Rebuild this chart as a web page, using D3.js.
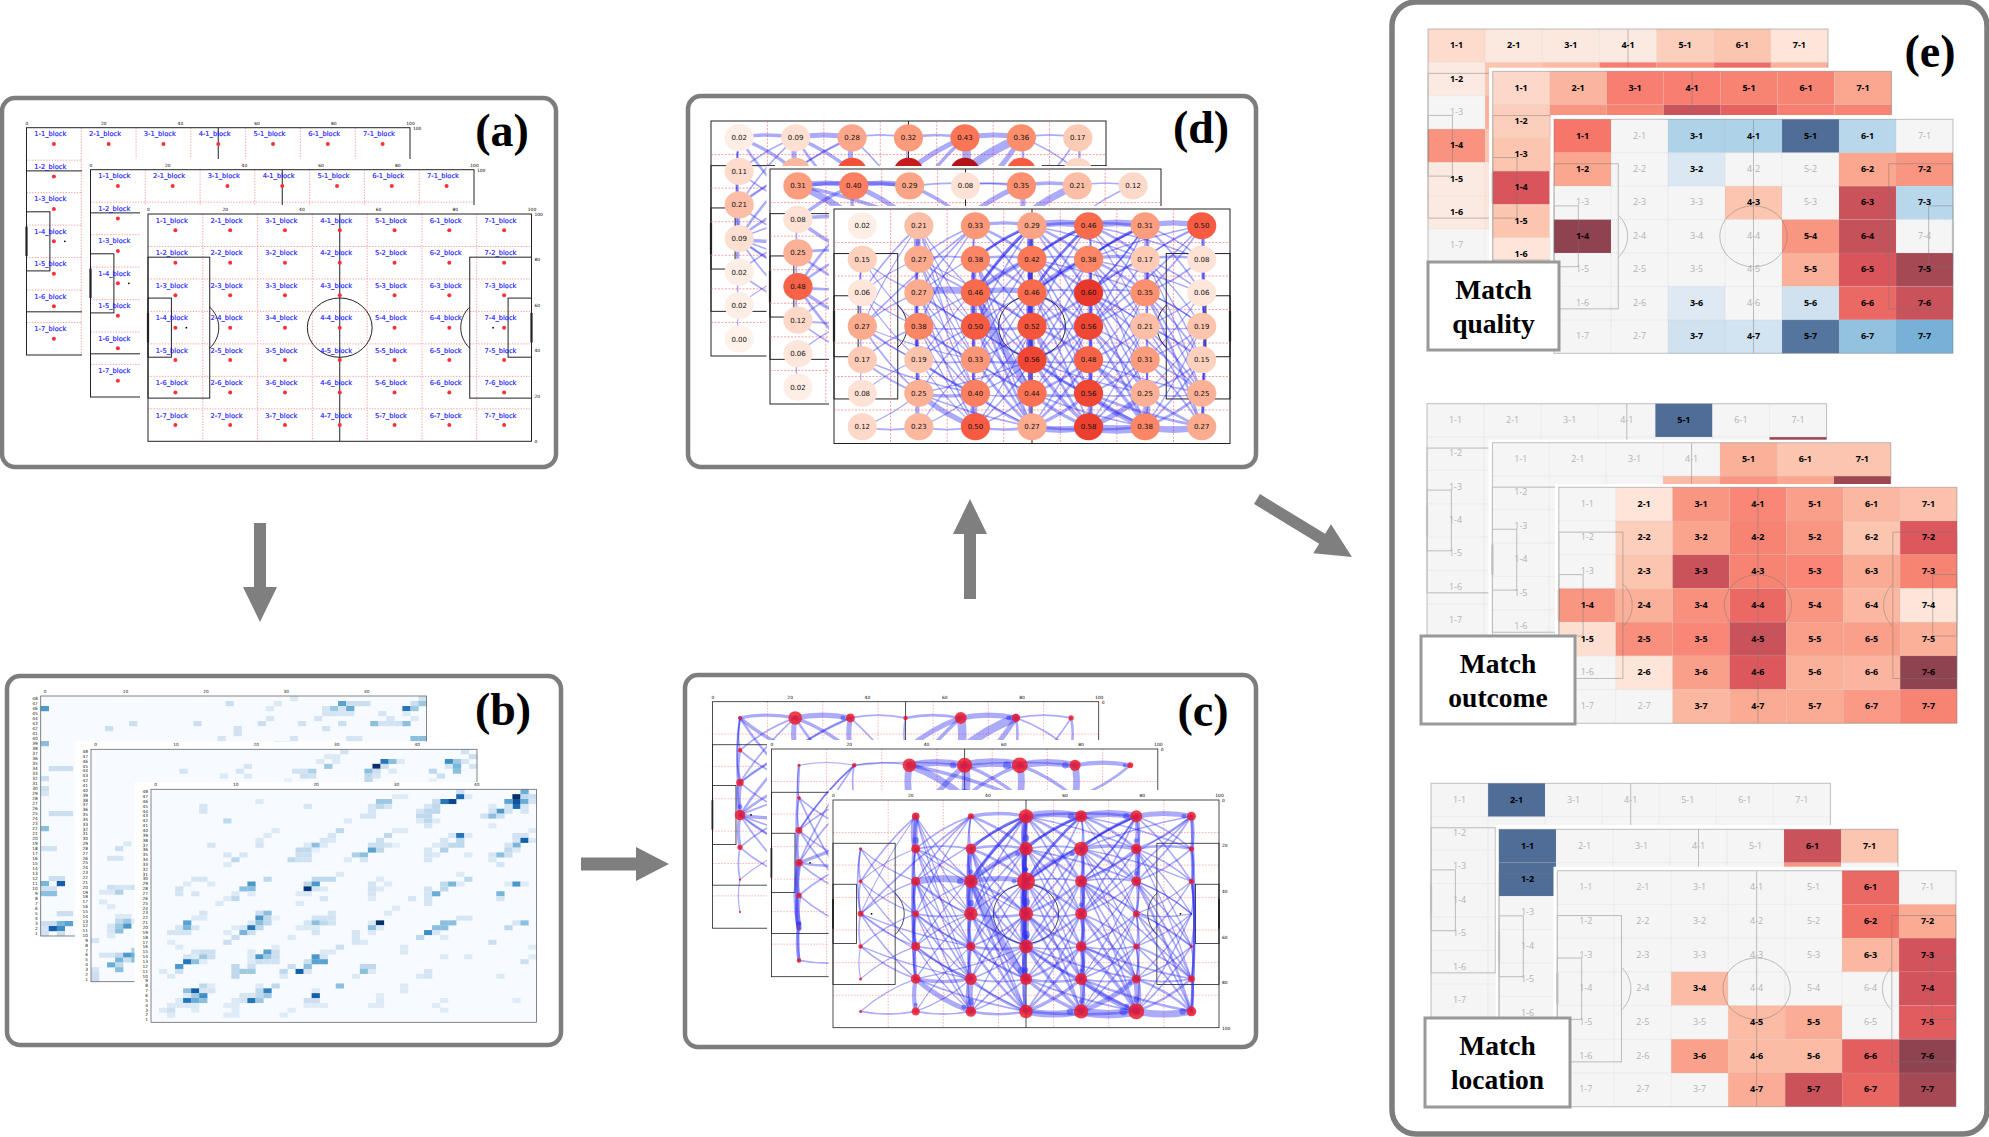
<!DOCTYPE html>
<html><head><meta charset="utf-8">
<script src="https://cdn.jsdelivr.net/npm/d3@7"></script>
<style>html,body{margin:0;background:#fff}svg{display:block}</style>
</head><body><svg id="c" width="1989" height="1137"></svg>
<script>
// ---------- data ----------
const blockCols=[1,2,3,4,5,6,7], blockRows=[1,2,3,4,5,6,7];
const ticksA=[0,20,40,60,80,100];
const heatTicksX=[0,10,20,30,40];
const heatRows=d3.range(48,0,-1), heatCols=d3.range(0,48);

const heatFront=[[46,48,.45],[38,48,.15],[45,47,1],[46,47,.2],[47,47,.15],[38,47,.75],[39,47,.08],[30,47,.07],[31,47,.07],
[45,46,.85],[44,46,.5],[46,46,.45],[37,46,.9],[36,46,.7],[35,46,.15],[28,46,.3],[29,46,.3],[13,46,.08],[47,46,.1],
[45,45,.75],[44,45,.12],[46,45,.1],[35,45,.2],[34,45,.1],[27,45,.1],[28,45,.2],[29,45,.1],[6,45,.1],[19,45,.1],[42,45,.08],
[34,44,.2],[35,44,.2],[33,44,.1],[43,44,.55],[42,44,.12],[44,44,.12],[46,44,.1],[27,44,.1],[6,44,.1],
[33,43,.2],[34,43,.2],[41,43,.12],[42,43,.35],[43,43,.15],[26,43,.1],[27,43,.1],
[9,42,.2],[24,42,.08],[33,42,.08],[34,42,.2],[35,42,.08],[34,41,.1],[42,41,.07],
[15,40,.08],[23,40,.2],[30,40,.08],[31,40,.08],[47,40,.07],
[14,39,.08],[22,39,.1],[29,39,.2],[37,39,.1],[38,39,.7],[39,39,.08],[45,39,.12],[46,39,.12],
[13,38,.08],[21,38,.1],[22,38,.08],[28,38,.15],[36,38,.1],[38,38,.2],[45,38,.1],[46,38,.8],[47,38,.08],
[7,37,.1],[13,37,.1],[19,37,.08],[20,37,.35],[21,37,.08],[27,37,.15],[28,37,.15],[29,37,.12],[30,37,.05],[35,37,.08],[36,37,.1],[37,37,.2],[38,37,.2],[45,37,.4],[44,37,.1],
[18,36,.2],[19,36,.2],[20,36,.05],[27,36,.5],[28,36,.2],[34,36,.1],[36,36,.25],[44,36,.2],[45,36,.08],
[9,35,.1],[11,35,.1],[18,35,.15],[19,35,.15],[25,35,.25],[26,35,.35],[34,35,.1],[35,35,.08],[39,35,.08],[42,35,.1],[43,35,.35],[44,35,.15],
[10,34,.2],[17,34,.2],[18,34,.12],[19,34,.12],[24,34,.08],[26,34,.1],[34,34,.1],[42,34,.08],[9,33,.08],[43,33,.1],
[23,31,.08],[38,31,.08],[5,30,.1],[6,30,.1],[14,30,.2],[20,30,.2],[21,30,.2],[22,30,.2],[28,30,.08],[39,30,.2],
[4,29,.08],[7,29,.08],[12,29,.55],[19,29,.2],[20,29,.55],[27,29,.1],[29,29,.08],[36,29,.2],[37,29,.4],[38,29,.08],[44,29,.08],[45,29,.55],[46,29,.07],
[3,28,.12],[11,28,.35],[12,28,.35],[19,28,.97],[20,28,.1],[21,28,.08],[27,28,.12],[28,28,.08],[34,28,.12],[36,28,.2],
[3,27,.1],[5,27,.1],[10,27,.08],[12,27,.08],[18,27,.08],[19,27,.08],[27,27,.1],[34,27,.1],[35,27,.45],[43,27,.4],
[9,26,.07],[10,26,.2],[21,26,.1],[27,26,.07],[32,26,.1],[34,26,.1],[43,26,.1],[8,25,.08],[18,25,.08],[34,25,.1],[30,24,.08],
[6,23,.1],[13,23,.15],[14,23,.35],[22,23,.1],[29,23,.08],
[5,22,.08],[6,22,.08],[13,22,.55],[14,22,.2],[15,22,.05],[20,22,.12],[21,22,.12],[22,22,.12],[38,22,.1],[39,22,.1],
[4,21,.5],[12,21,.08],[13,21,.35],[14,21,.2],[19,21,.1],[20,21,.35],[21,21,.2],[22,21,.12],[27,21,.08],[28,21,1],[36,21,.35],[37,21,.35],[45,21,.1],[46,21,.35],
[3,20,.1],[4,20,.4],[5,20,.1],[10,20,.07],[11,20,.1],[12,20,.7],[13,20,.2],[18,20,.08],[19,20,.08],[20,20,.08],[27,20,.35],[28,20,.08],[35,20,.35],[36,20,.35],[44,20,.2],
[2,19,.1],[3,19,.1],[4,19,.1],[9,19,.08],[11,19,.4],[12,19,.15],[20,19,.1],[25,19,.1],[27,19,.08],[34,19,.6],[35,19,.1],
[10,18,.15],[17,18,.08],[25,18,.1],[33,18,.2],[36,18,.08],[2,17,.07],[9,17,.15],[25,17,.1],[26,17,.08],[42,17,.15],
[3,16,.08],[15,16,.07],[23,16,.15],[31,16,.08],[47,16,.07],
[5,15,.1],[6,15,.15],[7,15,.15],[12,15,.08],[14,15,.5],[15,15,.15],[21,15,.08],[22,15,.08],[31,15,.08],
[4,14,.1],[5,14,.08],[6,14,.3],[7,14,.15],[12,14,.08],[13,14,.55],[14,14,.3],[15,14,.15],[20,14,.55],[21,14,.1],[36,14,.08],[39,14,.08],[47,14,.07],
[4,13,.7],[5,13,.35],[6,13,.07],[12,13,.08],[13,13,.15],[14,13,.12],[15,13,.12],[19,13,.15],[20,13,.5],[21,13,.5],[46,13,.15],
[3,12,.55],[10,12,.2],[12,12,.15],[17,12,.15],[19,12,.35],[26,12,.2],[27,12,.2],
[1,11,.08],[3,11,.15],[10,11,.2],[11,11,.3],[12,11,.3],[16,11,.2],[18,11,.8],[19,11,.1],[26,11,.35],[27,11,.08],[34,11,.1],
[2,10,.08],[10,10,.2],[16,10,.08],[25,10,.08],[33,10,.08],[34,10,.1],[43,10,.08],
[6,8,.2],[7,8,.07],[13,8,.08],[15,8,.2],[23,8,.35],[31,8,.08],
[4,7,.35],[5,7,.8],[6,7,.1],[7,7,.1],[13,7,.2],[14,7,.65],[20,7,.08],[31,7,.08],
[4,6,.08],[5,6,.3],[6,6,.6],[11,6,.1],[12,6,.1],[13,6,.2],[14,6,.3],[20,6,.8],[28,6,.07],
[3,5,.08],[4,5,.7],[5,5,.45],[6,5,.35],[10,5,.08],[11,5,.1],[12,5,.7],[13,5,.3],[19,5,.15],[20,5,.15],[28,5,.08],[36,5,.07],[45,5,.07],
[2,4,.08],[3,4,.08],[4,4,.08],[5,4,.08],[9,4,.07],[10,4,.08],[19,4,.07],[20,4,.07],[21,4,.07],[27,4,.07],[28,4,.07],[35,4,.07],
[1,3,.08],[2,3,.15],[5,3,.07],[10,3,.07],[17,3,.07],[36,3,.07],[2,2,.08],[9,2,.07],[10,2,.07],[16,2,.07]];

const heatMiddle=[[31,48,.12],[46,48,.12],[29,47,.08],[30,47,.08],[47,47,.15],[28,46,.08],[30,46,.08],[36,46,.7],[37,46,.35],[38,46,.08],[44,46,.6],[45,46,.3],[46,46,.1],
[19,45,.1],[29,45,.3],[35,45,1],[36,45,.15],[44,45,.1],[45,45,.4],[47,45,.1],
[11,44,.1],[18,44,.1],[25,44,.12],[26,44,.12],[27,44,.25],[34,44,.35],[35,44,.15],[37,44,.08],[42,44,.2],[45,44,.35],
[16,43,.08],[19,43,.08],[26,43,.15],[27,43,.12],[34,43,.2],[35,43,.1],[43,43,.15],[24,42,.05],[34,42,.2],[42,42,.05],
[2,26,.1],[3,26,.1],[3,28,.15],[4,29,.08],[2,20,.15],[3,20,.1],[4,20,.1],[5,20,.15],[1,19,.08],[2,19,.08],[3,19,.25],[1,17,.08],[2,16,.08],[3,14,.08],[4,14,.08],
[3,13,.2],[4,13,.3],[5,13,.08],[2,12,.1],[3,12,.3],[4,12,.55],[2,11,.1],[3,11,.35],[2,10,.08],[0,9,.1],[5,7,.25],
[1,6,.1],[2,6,.1],[3,6,.2],[4,6,.55],[5,6,.45],[3,5,.4],[4,5,.15],[5,5,.35],[2,4,.45],[3,4,.2],[0,3,.1],[3,3,.35],[0,2,.15],[0,1,.15]];

const heatBack=[[47,48,.12],[31,48,.08],[23,47,.15],[29,47,.08],[37,47,.5],[38,47,.15],[39,47,.15],[40,47,.15],[46,47,.15],[47,47,.3],
[0,46,.55],[28,46,.08],[35,46,.1],[36,46,.3],[37,46,.1],[38,46,.45],[45,46,.7],[46,46,.3],
[35,45,.1],[36,45,.1],[37,45,.1],[38,45,.1],[42,45,.1],[45,45,.08],[28,44,.1],[34,44,.1],[43,44,.1],[46,44,.08],
[11,43,.15],[19,43,.15],[27,43,.15],[32,43,.12],[37,43,.15],[41,43,.35],[42,43,.12],[43,43,.12],[44,43,.12],[45,43,.35],
[8,42,.15],[24,42,.12],[35,42,.12],[24,41,.12],[22,40,.1],[31,40,.1],[38,40,.1],[39,40,.1],[46,40,.35],[47,40,.35],
[0,39,.35],[29,39,.2],[30,39,.1],[1,34,.15],[2,34,.15],[3,34,.15],[0,32,.15],[0,30,.15],[0,29,.1],[1,25,.15],[2,25,.15],[3,25,.15],[0,22,.35],
[0,18,.12],[1,18,.12],[1,12,.15],[2,12,.15],[0,11,.4],[2,11,.8],[0,10,.12],[1,10,.12],[0,9,.35],[1,9,.35],[2,5,.15],[3,5,.15],
[0,3,.15],[1,3,.15],[2,3,.4],[3,3,.5],[0,2,.1],[1,2,.8],[2,2,.6],[0,1,.12],[2,1,.15]];

// network edges: from, to (column digit + row digit), weight
const edgesFront=[[21,22,4],[22,23,1],[23,24,1.5],[24,25,2],[23,25,1.5],[25,26,1.5],[26,27,2.5],[22,24,1],[24,26,1],
[31,32,1],[32,33,3],[33,34,4],[34,35,2],[35,36,2],[36,37,4],[32,34,2],[33,35,1.5],[34,36,1.5],[35,37,1],[31,33,1],
[41,42,4],[42,43,3],[43,44,5],[44,45,5],[45,46,3],[46,47,2],[41,43,2.5],[43,45,3],[44,46,2],[42,44,2],[45,47,1.5],[41,44,1.5],[42,45,1.5],
[51,52,1],[52,53,2],[53,54,3],[54,55,2],[55,56,2.5],[56,57,3],[52,54,1.5],[53,55,1.5],[54,56,2],[55,57,1.5],[51,53,1],
[61,62,3],[62,63,3],[63,64,1.5],[64,65,1],[65,66,1],[66,67,4],[61,63,1],[62,64,1],[64,66,1],[65,67,1],
[71,72,2],[72,73,1.5],[73,74,1],[75,76,1],[76,77,1.5],[72,77,1.5],[71,77,1.5],[73,76,1],[73,75,1],
[12,13,1],[13,14,1],[14,15,1],[12,14,1],[15,16,.7],
[31,41,2],[41,51,4],[51,61,4],[61,71,3],[41,61,1.5],[42,52,1],[52,62,2],[62,72,1.5],[23,33,4],[33,43,3],[43,53,1],[53,63,1],[34,44,1.5],[44,54,1],[64,74,.8],[36,46,1],[46,56,1.5],[56,66,1],[66,76,1],
[37,47,1.5],[47,57,4],[57,67,5],[67,77,4],[27,37,1],[17,27,1],[26,36,2],[25,35,1],[35,45,1.5],[45,55,1],[55,65,1],[24,34,1],[22,32,1],[32,42,1.5],[47,67,1.5],
[21,13,1],[21,14,.7],[31,14,1],[31,22,1],[31,23,1],[31,24,.8],[41,32,1.5],[41,33,2],[41,34,1],[41,25,.7],[41,23,.8],[41,52,1.5],[41,53,1.5],[41,62,1],[41,54,1],
[51,42,1.5],[51,43,1.5],[51,44,1],[51,33,1],[51,62,1.5],[51,63,1],[51,72,1],[61,52,1.5],[61,53,1],[61,54,1],[61,43,1],[61,72,1],[71,62,1],[71,63,1],[71,52,1],[71,53,.8],[71,54,1],
[12,23,.8],[12,24,.8],[13,22,.7],[13,24,.8],[13,25,.8],[14,23,.8],[14,25,.8],[14,26,1],[14,36,.7],[14,35,.7],[15,24,.8],[15,26,1],[15,36,.8],[16,25,.7],[17,26,.7],
[22,33,1],[22,34,.8],[22,35,.8],[22,36,.8],[22,44,.7],[23,34,1],[23,35,.8],[23,36,1],[23,37,1],[23,45,.7],[24,33,.8],[24,35,1],[24,36,1],[24,37,.8],[24,46,.8],[25,36,1],[25,37,.8],[25,34,.8],[25,47,.8],[26,34,.8],[26,37,3],[26,47,1],[26,45,.8],[27,36,.8],[27,35,.7],[21,33,.8],[21,34,.7],[21,35,.7],[21,36,.7],[21,26,2],
[32,43,1.5],[32,44,1],[32,45,1],[32,46,.8],[32,41,1.5],[32,47,.8],[33,44,1.5],[33,45,1],[33,46,4],[33,47,1.5],[33,42,3],[33,41,1.5],[34,43,1],[34,45,1],[34,46,1],[34,47,1.5],[34,42,1],[35,44,1],[35,46,1],[35,47,1.5],[35,43,1],[35,42,1],[36,45,1],[36,47,1.5],[36,44,1],[36,43,.8],[37,46,1],[37,45,1],[37,44,.8],[31,42,1.5],[31,43,1],
[42,53,1.5],[42,54,1],[42,55,1],[42,51,1.5],[42,56,.8],[42,63,1],[43,52,3],[43,54,1.5],[43,55,1],[43,56,1],[43,51,1.5],[43,61,1],[43,57,1],[44,53,1.5],[44,55,1.5],[44,56,1.5],[44,57,1.5],[44,52,1],[45,54,1.5],[45,56,1.5],[45,57,2],[45,53,1],[45,52,1],[45,66,1],[45,67,1.5],[46,55,1.5],[46,57,2],[46,54,1],[46,53,.8],[46,67,1],[47,56,2],[47,55,1.5],[47,54,1],
[52,63,1.5],[52,64,1],[52,61,1],[52,65,.8],[52,66,.8],[53,62,1.5],[53,64,1],[53,65,1],[53,66,1],[53,67,1],[53,61,1],[54,63,1],[54,65,1],[54,66,1.5],[54,67,1.5],[54,62,1],[55,64,1],[55,66,1.5],[55,67,2],[55,63,.8],[55,76,1],[56,65,1],[56,67,3],[56,64,.8],[56,77,1.5],[56,63,.8],[57,66,3],[57,65,1],[57,64,.8],[51,64,.7],[52,73,.8],[53,75,.8],[53,76,1],
[62,73,1],[62,74,.8],[62,75,.8],[63,72,1],[63,74,.8],[63,75,1],[63,76,1],[63,77,1.5],[64,73,.8],[64,75,.8],[64,76,1],[64,77,1],[65,76,1],[65,77,1],[65,74,.8],[65,73,.8],[66,75,1],[66,77,1.5],[66,74,.8],[67,76,1.5],[67,75,1],[67,74,.8],[61,73,1],[62,76,.8],[74,63,.8]];

const edgesMiddle=[[21,31,.7],[11,21,.7],[31,41,4],[41,51,5],[51,61,4],[61,71,2.5],[21,41,1],[41,61,1],[31,32,4],[41,42,5],[51,52,4],[61,62,4],[71,62,1.5],[31,42,4],[41,33,3],[41,52,2],[51,42,2],[51,62,2],[31,52,2],[21,22,1],[21,13,1],[21,14,1],[11,12,.7],[12,13,1],[13,14,1.5],[14,15,2],[15,16,3],[14,16,3],[16,17,2],[11,17,1.5],[13,22,1],[13,24,1],[13,25,1],[14,25,1],[14,24,1.5],[14,33,2],[15,24,1],[15,26,1],[17,27,1],[12,23,1],[12,25,1],[13,21,1],[14,22,1]];

const edgesBack=[[11,21,2],[21,31,3],[31,41,1],[41,51,1.5],[51,61,3],[61,71,1],[11,12,1],[12,13,1.5],[13,14,3],[14,15,2],[15,16,1],[16,17,.7],[21,22,3],[31,32,3],[41,42,1],[51,52,5],[61,62,1.5],[71,72,1.5],[11,22,2],[11,23,1.5],[21,32,2],[21,33,1.5],[21,13,1],[31,22,1],[51,42,3],[51,43,2],[61,52,5],[61,53,3],[31,43,1],[61,72,1],[71,63,1],[14,25,1],[14,26,1],[14,24,2],[14,23,1.5],[14,22,1.5],[14,33,1],[14,35,1],[14,36,1],[13,22,1],[13,24,1],[13,31,1],[12,21,1],[12,23,1],[15,24,1],[15,26,1],[16,25,.7],[11,13,1],[11,14,1]];

const edgesMiddleD=[[11,21,3],[11,31,2],[21,31,3],[31,51,1],[41,51,1],[51,61,2],[61,71,1],[11,22,4],[11,32,2],[21,32,3],[21,12,2],[31,42,2],[51,42,3],[51,52,3],[61,52,4],[71,62,1],[21,22,2],[12,23,2],[12,22,2],[12,13,1],[13,14,1],[13,23,1.5],[13,24,1.5],[14,15,1],[14,24,1.5],[14,25,2],[14,26,1.5],[14,22,1.5],[14,23,1.5],[15,24,1],[15,25,1],[15,26,1],[16,25,.8],[16,17,.8]];

// panel (c) node sizes by row then column; empty = hidden behind the next sheet
const sizeFront=[[0,10,8,19,16,16,12],[4,12,14,18,19,14,7],[5,12,18,24,16,13,7],[8,9,18,19,16,9,0],[6,12,12,18,14,8,4],[4,13,16,16,16,12,9],[4,11,14,18,19,21,13]];
const sizeMiddle=[[4,6,18,20,21,15,8],[5,,,,,,],[9,,,,,,],[10,,,,,,],[7,,,,,,],[3,,,,,,],[6,,,,,,]];
const sizeBack=[[5,18,12,6,16,11,7],[6,,,,,,],[10,,,,,,],[14,,,,,,],[7,,,,,,],[3,,,,,,],[3,,,,,,]];

// panel (d) centrality values
const valFront=[[.02,.21,.33,.29,.46,.31,.50],[.15,.27,.38,.42,.38,.17,.08],[.06,.27,.46,.46,.60,.35,.06],[.27,.38,.50,.52,.56,.21,.19],[.17,.19,.33,.56,.48,.31,.15],[.08,.25,.40,.44,.56,.25,.25],[.12,.23,.50,.27,.58,.38,.27]];
const valMiddle=[[.31,.40,.29,.08,.35,.21,.12],[.08,.5,.55,.2,.55,.3,.1],[.25,,,,,,],[.48,,,,,,],[.12,,,,,,],[.06,,,,,,],[.02,,,,,,]];
const valBack=[[.02,.09,.28,.32,.43,.36,.17],[.11,.23,.53,.72,.78,.5,.13],[.21,,,,,,],[.09,,,,,,],[.02,,,,,,],[.02,,,,,,],[.00,,,,,,]];

// panel (e) scores: sign = colour side, 0 = not significant
const qualityFront=[[.55,0,-.35,-.35,-1,-.3,0],[.35,0,-.15,0,0,.35,.42],[0,0,0,.2,0,.78,-.3],[1,0,0,0,.42,.8,0],[0,0,0,0,.3,.72,.92],[0,0,-.13,0,-.2,.62,.78],[0,0,-.2,-.19,-.95,-.45,-.55]];
const qualityMiddle=[[.14,.28,.52,.52,.5,.5,.35],[.17,.42,.5,.78,.65,.52,.5],[.2,.3,0,0,0,0,0],[.72,0,0,0,0,0,0],[.2,0,0,0,0,0,0],[.1,0,0,0,0,0,0],[0,0,0,0,0,0,0]];
const qualityBack=[[.13,.08,.08,.07,.17,.2,.1],[.07,.2,.26,.52,.45,.6,.3],[0,.3,0,0,0,0,0],[.43,.2,0,0,0,0,0],[.07,.1,0,0,0,0,0],[.07,.1,0,0,0,0,0],[0,0,0,0,0,0,0]];
const outcomeFront=[[0,.1,.42,.48,.38,.27,.22],[0,.17,.36,.5,.42,.2,.7],[0,.2,.78,.5,.48,.33,.5],[.42,.3,.45,.62,.42,.27,.1],[.12,.45,.48,.78,.38,.38,.3],[0,.1,.38,.7,.3,.28,1],[0,0,.27,.33,.33,.4,.5]];
const outcomeMiddle=[[0,0,0,0,.3,.2,.2],[0,0,0,.25,.42,.35,.95],[0,0,0,0,0,0,0],[0,0,0,0,0,0,0],[0,0,0,0,0,0,0],[0,0,0,0,0,0,0],[0,0,0,0,0,0,0]];
const outcomeBack=[[0,0,0,0,-1,0,0],[0,0,0,0,0,0,.95],[0,0,0,0,0,0,0],[0,0,0,0,0,0,0],[0,0,0,0,0,0,0],[0,0,0,0,0,0,0],[0,0,0,0,0,0,0]];
const locationFront=[[0,0,0,0,0,.62,0],[0,0,0,0,0,.58,.33],[0,0,0,0,0,.27,.75],[0,0,.25,0,0,0,.75],[0,0,0,.25,.32,0,.68],[0,0,.37,.25,.25,.67,1],[0,0,0,.32,.78,.63,.92]];
const locationMiddle=[[-1,0,0,0,0,.78,.2],[-1,0,0,0,0,.42,0],[0,0,0,0,0,0,0],[0,0,0,0,0,0,0],[0,0,0,0,0,0,0],[0,0,0,0,0,0,0],[0,0,0,0,0,0,0]];
const locationBack=[[0,-1,0,0,0,0,0],[0,0,0,0,0,0,0],[0,0,0,0,0,0,0],[0,0,0,0,0,0,0],[0,0,0,0,0,0,0],[0,0,0,0,0,0,0],[0,0,0,0,0,0,0]];

// ---------- helpers ----------
const svg=d3.select('#c');
svg.append('rect').attr('width',1989).attr('height',1137).attr('fill','#fff');
const SERIF='"Liberation Serif","Times New Roman",serif', SANS='"DejaVu Sans",sans-serif';
const GREY='#7d7d7d';
// each sheet is drawn over a white mask; covered(x,y) says whether the next sheet hides a point
function stack(parent,frames,right,bottom,draw){
  frames.forEach((f,i)=>{
    if(f.mx!==undefined) parent.append('rect').attr('x',f.mx).attr('y',f.my).attr('width',right-f.mx).attr('height',bottom-f.my).attr('fill','#fff');
    const later=frames.slice(i+1);
    const covered=(x,y)=>later.some(n=>x>n.mx&&y>n.my&&x<right&&y<bottom);
    draw(parent.append('g'),f,i,covered);
  });
}
function scales(f,rev){
  return {x:d3.scaleLinear([0,100],[f.x,f.x+f.w]), y:d3.scaleLinear([0,100],rev?[f.y,f.y+f.h]:[f.y+f.h,f.y]),
    bx:d3.scaleBand(blockCols,[f.x,f.x+f.w]), by:d3.scaleBand(blockRows,[f.y,f.y+f.h])};
}
function pitch(g,f,o){
  const X=d3.scaleLinear([0,100],[f.x,f.x+f.w]), Y=d3.scaleLinear([0,100],[f.y,f.y+f.h]);
  const p=g.append('g').attr('fill','none').attr('stroke',o.stroke).attr('stroke-width',o.sw).attr('opacity',o.op||1);
  const box=(a,b,c,d)=>p.append('rect').attr('x',X(a)).attr('y',Y(c)).attr('width',X(b)-X(a)).attr('height',Y(d)-Y(c));
  box(0,100,0,100);
  box(0,16.1,19,81); box(83.9,100,19,81); box(0,6.1,37,63); box(93.9,100,37,63);
  p.append('line').attr('x1',X(50)).attr('x2',X(50)).attr('y1',Y(0)).attr('y2',Y(100));
  p.append('ellipse').attr('cx',X(50)).attr('cy',Y(50)).attr('rx',X(8.45)-X(0)).attr('ry',Y(13.05)-Y(0));
  const th=d3.range(-44,44.1,4).map(d=>d*Math.PI/180);
  const line=d3.line();
  p.append('path').attr('d',line(th.map(t=>[X(10+8.45*Math.cos(t)),Y(50+13.05*Math.sin(t))])));
  p.append('path').attr('d',line(th.map(t=>[X(90-8.45*Math.cos(t)),Y(50+13.05*Math.sin(t))])));
  [0,100].forEach(v=>p.append('line').attr('x1',X(v)).attr('x2',X(v)).attr('y1',Y(43.5)).attr('y2',Y(56.5)).attr('stroke-width',o.sw*2.2));
  if(o.spots){[10,90].forEach(v=>g.append('circle').attr('cx',X(v)).attr('cy',Y(50)).attr('r',.9).attr('fill','#000'));}
}
function grid(g,f,o){
  const X=d3.scaleLinear([0,7],[f.x,f.x+f.w]), Y=d3.scaleLinear([0,7],[f.y,f.y+f.h]);
  const l=g.append('g').attr('stroke',o.stroke).attr('stroke-width',o.sw).attr('stroke-dasharray',o.dash).attr('opacity',o.op||1);
  d3.range(1,7).forEach(i=>{
    l.append('line').attr('x1',X(i)).attr('x2',X(i)).attr('y1',Y(0)).attr('y2',Y(7));
    l.append('line').attr('y1',Y(i)).attr('y2',Y(i)).attr('x1',X(0)).attr('x2',X(7));
  });
}
function tickAxes(g,f,rev,covered){
  const s=scales(f,rev);
  const fmt=a=>a.call(x=>x.select('.domain').remove()).call(x=>x.selectAll('line').remove())
    .call(x=>x.selectAll('text').attr('fill','#000').attr('font-family',SANS).attr('font-size',4.4));
  g.append('g').attr('transform',`translate(0,${f.y-1})`).call(d3.axisTop(s.x).tickValues(ticksA).tickSize(0).tickPadding(2)).call(fmt);
  const rightVals=ticksA.filter(v=>!covered(f.x+f.w+6,s.y(v)));
  g.append('g').attr('transform',`translate(${f.x+f.w+1},0)`).call(d3.axisRight(s.y).tickValues(rightVals).tickSize(0).tickPadding(2)).call(fmt);
}
function frameLabel(t,x,y){svg.append('text').attr('x',x).attr('y',y).attr('text-anchor','middle').attr('font-family',SERIF).attr('font-weight',700).attr('font-size',46).attr('fill','#000').text(t);}
function panelBox(x,y,w,h,sw,r){svg.append('rect').attr('x',x).attr('y',y).attr('width',w).attr('height',h).attr('rx',r).attr('fill','none').attr('stroke',GREY).attr('stroke-width',sw);}
function arrow(x0,y0,x1,y1,shaft,head,hl){
  const L=Math.hypot(x1-x0,y1-y0),a=Math.atan2(y1-y0,x1-x0)*180/Math.PI;
  svg.append('path').attr('transform',`translate(${x0},${y0}) rotate(${a})`).attr('fill','#7f7f7f')
    .attr('d',d3.line()([[0,-shaft/2],[L-hl,-shaft/2],[L-hl,-head/2],[L,0],[L-hl,head/2],[L-hl,shaft/2],[0,shaft/2]])+'Z');
}
const nodeXY=(f,id)=>{const s=scales(f);return [s.bx(Math.floor(id/10))+s.bx.bandwidth()/2, s.by(id%10)+s.by.bandwidth()/2];};
function edges(g,f,list,color,op,wk){
  const cx=f.x+f.w/2,cy=f.y+f.h/2;
  const e=g.append('g').attr('fill','none').attr('stroke',color).attr('stroke-opacity',op).attr('stroke-linecap','round');
  e.selectAll('path').data(list).join('path').attr('stroke-width',d=>d[2]*wk).attr('d',d=>{
    const [ax,ay]=nodeXY(f,d[0]),[bx,by]=nodeXY(f,d[1]);
    const len=Math.hypot(bx-ax,by-ay),off=Math.min(len*.1,6)/len;
    let nx=-(by-ay)*off,ny=(bx-ax)*off; const mx=(ax+bx)/2,my=(ay+by)/2;
    if(nx*(mx-cx)+ny*(my-cy)<0){nx=-nx;ny=-ny;}
    return `M${ax},${ay}Q${mx+nx},${my+ny} ${bx},${by}`;
  });
}
// arrow-end blobs on the heavier links, placed just before the target node
function blobs(g,f,list,rOf){
  const hit=list.filter(d=>d[2]>=2.5);
  g.selectAll('.b').data(hit).join('circle').attr('fill','#2a2af0').attr('fill-opacity',.45).attr('r',d=>d[2]*.8)
   .attr('cx',d=>{const [ax,ay]=nodeXY(f,d[0]),[bx,by]=nodeXY(f,d[1]);const L=Math.hypot(bx-ax,by-ay);return bx-(bx-ax)/L*(rOf(d[1])+d[2]);})
   .attr('cy',d=>{const [ax,ay]=nodeXY(f,d[0]),[bx,by]=nodeXY(f,d[1]);const L=Math.hypot(bx-ax,by-ay);return by-(by-ay)/L*(rOf(d[1])+d[2]);});
}

// ---------- (a) ----------
const gA=svg.append('g');
stack(gA,[{x:26.5,y:127.7,w:383.5,h:227.3},{x:90.5,y:169.7,w:383.5,h:227.3,mx:82,my:159},{x:148,y:214,w:383.5,h:227.3,mx:140,my:205}],552,452,(g,f,i,covered)=>{
  const s=scales(f);
  grid(g,f,{stroke:'#ff7a7a',sw:.8,dash:'1.3,1.5',op:.9});
  pitch(g,f,{stroke:'#222',sw:1,spots:true});
  tickAxes(g,f,false,covered);
  const cells=d3.cross(blockCols,blockRows);
  g.selectAll('.d').data(cells).join('circle').attr('cx',d=>s.bx(d[0])+s.bx.bandwidth()/2).attr('cy',d=>s.by(d[1])+s.by.bandwidth()/2).attr('r',2).attr('fill','#ff2f3a');
  g.selectAll('.t').data(cells.filter(d=>!covered(s.bx(d[0])+s.bx.bandwidth()/2-3.6,s.by(d[1])+s.by.bandwidth()/2-10))).join('text').attr('x',d=>s.bx(d[0])+s.bx.bandwidth()/2-3.6).attr('y',d=>s.by(d[1])+s.by.bandwidth()/2-7.5)
   .attr('text-anchor','middle').attr('font-family',SANS).attr('font-size',6.7).attr('fill','#1818ff').attr('stroke','#1818ff').attr('stroke-width',.15).text(d=>`${d[0]}-${d[1]}_block`);
});
panelBox(2,98,554,369,4.5,13); frameLabel('(a)',502,146);

// ---------- (b) ----------
const gB=svg.append('g');
const heatLists=[heatBack,heatMiddle,heatFront];
const heatTone=d3.scaleLinear([0,.1,.35,1],[0,.17,.42,1]);
stack(gB,[{x:40.7,y:696,w:385.8,h:240},{x:91,y:749.3,w:386,h:232.4,mx:75,my:741.5},{x:151,y:789.3,w:385.5,h:233,mx:134.5,my:782}],538,1030,(g,f,i)=>{
  const X=d3.scaleBand(heatCols,[f.x,f.x+f.w]),Y=d3.scaleBand(heatRows,[f.y,f.y+f.h]);
  g.append('rect').attr('x',f.x).attr('y',f.y).attr('width',f.w).attr('height',f.h).attr('fill',d3.interpolateBlues(0));
  g.selectAll('.c').data(heatLists[i]).join('rect').attr('x',d=>X(d[0])).attr('y',d=>Y(d[1])).attr('width',X.bandwidth()+.2).attr('height',Y.bandwidth()+.2).attr('fill',d=>d3.interpolateBlues(heatTone(d[2])));
  g.append('rect').attr('x',f.x).attr('y',f.y).attr('width',f.w).attr('height',f.h).attr('fill','none').attr('stroke','#666').attr('stroke-width',.8);
  const fmt=a=>a.call(x=>x.select('.domain').remove()).call(x=>x.selectAll('line').remove()).call(x=>x.selectAll('text').attr('fill','#222').attr('font-family',SANS).attr('font-size',4.3));
  g.append('g').attr('transform',`translate(0,${f.y-1})`).call(d3.axisTop(d3.scaleLinear([0,48],[f.x+4,f.x+4+f.w])).tickValues(heatTicksX).tickSize(0).tickPadding(2)).call(fmt);
  g.append('g').attr('transform',`translate(${f.x-1},0)`).call(d3.axisLeft(Y).tickSize(0).tickPadding(2)).call(fmt);
});
panelBox(7,676,554,369,4.5,13); frameLabel('(b)',503,725);

// ---------- (c) ----------
const gC=svg.append('g');
const netFrames=[{x:712.4,y:701.7,w:386.3,h:226.5},{x:771.4,y:749,w:386.4,h:227.7,mx:767,my:740},{x:833,y:800,w:386,h:227.7,mx:828.6,my:790}];
const sizeLists=[sizeBack,sizeMiddle,sizeFront], edgeLists=[edgesBack,edgesMiddle,edgesFront];
const rScale=d3.scaleLinear([0,24],[0,9]);
const EDGE='#2222f2';
stack(gC,netFrames,1232,1036,(g,f,i,covered)=>{
  grid(g,f,{stroke:'#ff7a7a',sw:.7,dash:'1.5,1.5',op:.8});
  pitch(g,f,{stroke:'#222',sw:.8,spots:true});
  tickAxes(g,f,true,covered);
  edges(g,f,edgeLists[i],EDGE,.38,1.7);
  const sz=id=>rScale((sizeLists[i][id%10-1]||[])[Math.floor(id/10)-1]||0);
  blobs(g,f,edgeLists[i],sz);
  const nodes=sizeLists[i].flatMap((r,ri)=>r.map((v,ci)=>({id:(ci+1)*10+ri+1,v})).filter(d=>d.v));
  g.selectAll('.n').data(nodes).join('circle').attr('cx',d=>nodeXY(f,d.id)[0]).attr('cy',d=>nodeXY(f,d.id)[1]).attr('r',d=>rScale(d.v)).attr('fill','#ee1c2c').attr('fill-opacity',.85);
});
panelBox(685,675,571,372,4.5,13); frameLabel('(c)',1203,726);

// ---------- (d) ----------
const gD=svg.append('g');
const dFrames=[{x:711,y:121,w:395,h:235},{x:770,y:169,w:391,h:235,mx:766.5,my:166},{x:834,y:209,w:396,h:234.5,mx:829,my:206}];
const valLists=[valBack,valMiddle,valFront], dEdges=[edgesBack,edgesMiddleD,edgesFront];
const colorD=d3.scaleSequential(d3.interpolateReds).domain([-.02,.95]);
stack(gD,dFrames,1234,450,(g,f,i,covered)=>{
  pitch(g,f,{stroke:'#222',sw:1});
  grid(g,f,{stroke:'#ff6a6a',sw:.7,dash:'2,1.5',op:.9});
  edges(g,f,dEdges[i],EDGE,.38,1.7);
  const nodes=valLists[i].flatMap((r,ri)=>r.map((v,ci)=>({id:(ci+1)*10+ri+1,v})).filter(d=>d.v!==undefined));
  g.selectAll('.n').data(nodes).join('ellipse').attr('cx',d=>nodeXY(f,d.id)[0]).attr('cy',d=>nodeXY(f,d.id)[1]).attr('rx',14.6).attr('ry',13.6).attr('fill',d=>colorD(d.v));
  g.selectAll('.t').data(nodes.filter(d=>!covered(...nodeXY(f,d.id)))).join('text').attr('x',d=>nodeXY(f,d.id)[0]).attr('y',d=>nodeXY(f,d.id)[1]+2.5)
    .attr('text-anchor','middle').attr('font-family',SANS).attr('font-size',7).attr('fill','#111').text(d=>d3.format('.2f')(d.v));
});
panelBox(688,96,568,371,4.5,13); frameLabel('(d)',1201,143);

// ---------- (e) ----------
const colorE=d3.scaleLinear([-1,-.55,-.35,-.15,0,.1,.2,.35,.55,.72,.85,1],['#4f6d97','#78b1d7','#aed2e8','#dbe7f3','#f5f5f5','#fde5da','#fcc5b0','#fba68f','#f6776a','#d9545b','#b94f5a','#8f4350']);
function heatPitches(frames,lists,right,bottom,box){
  const gE=svg.append('g');
  stack(gE,frames,right,bottom,(g,f,i,covered)=>{
    const s=scales(f);
    const cells=lists[i].flatMap((r,ri)=>r.map((v,ci)=>({c:ci+1,r:ri+1,v})));
    const tx=d=>s.bx(d.c)+s.bx.bandwidth()/2, ty=d=>s.by(d.r)+s.by.bandwidth()/2;
    const inBox=d=>tx(d)>box.x-6&&tx(d)<box.x+box.w+6&&ty(d)>box.y-3&&ty(d)<box.y+box.h+3;
    g.selectAll('.c').data(cells).join('rect').attr('x',d=>s.bx(d.c)).attr('y',d=>s.by(d.r)).attr('width',s.bx.bandwidth()).attr('height',s.by.bandwidth()).attr('fill',d=>colorE(d.v));
    grid(g,f,{stroke:'#bbb',sw:.5,dash:'1,1',op:.7});
    pitch(g,f,{stroke:'#777',sw:1,op:.45});
    g.selectAll('.t').data(cells.filter(d=>!covered(tx(d),ty(d))&&!inBox(d))).join('text').attr('x',tx).attr('y',d=>ty(d)+2.6)
      .attr('text-anchor','middle').attr('font-family','"Open Sans",sans-serif').attr('font-size',9).attr('font-weight',d=>d.v?700:400).attr('fill',d=>d.v?'#000':'#b3b3b3').text(d=>`${d.c}-${d.r}`);
  });
}
function nameBox(b,l1,l2){
  svg.append('rect').attr('x',b.x).attr('y',b.y).attr('width',b.w).attr('height',b.h).attr('fill','#fff').attr('stroke','#999').attr('stroke-width',3);
  [l1,l2].forEach((t,i)=>svg.append('text').attr('x',b.x+b.w/2).attr('y',b.y+37+i*34).attr('text-anchor','middle').attr('font-family',SERIF).attr('font-weight',700).attr('font-size',27.5).attr('fill','#000').text(t));
}
const boxQ={x:1428,y:262,w:131,h:88}, boxO={x:1421,y:636,w:154,h:88}, boxL={x:1425,y:1018,w:145,h:89};
heatPitches([{x:1428,y:29,w:400,h:233.5},{x:1492.7,y:71.3,w:398.8,h:233,mx:1489,my:67.7},{x:1554,y:119.3,w:399,h:234,mx:1550.4,my:115}],[qualityBack,qualityMiddle,qualityFront],1954,356,boxQ);
nameBox(boxQ,'Match','quality');
heatPitches([{x:1427,y:403.7,w:399.6,h:233.5},{x:1492.4,y:442.7,w:398.4,h:234,mx:1488.5,my:439.7},{x:1558.8,y:487.3,w:398.2,h:236,mx:1555,my:484}],[outcomeBack,outcomeMiddle,outcomeFront],1958,726,boxO);
nameBox(boxO,'Match','outcome');
heatPitches([{x:1431,y:783.3,w:399.4,h:234},{x:1499,y:829.3,w:399,h:234,mx:1495.8,my:825},{x:1557.3,y:870.7,w:398.7,h:236,mx:1553.5,my:866.7}],[locationBack,locationMiddle,locationFront],1957,1110,boxL);
nameBox(boxL,'Match','location');
panelBox(1392,2,595,1132,5.5,24); frameLabel('(e)',1930,67);

// ---------- flow arrows ----------
arrow(260,523,260,622,12,34,35);
arrow(581,864,669,864,13,34,33);
arrow(970,599,970,499,12,34,35);
arrow(1257,499,1352,557,11.5,34,35);
</script></body></html>
